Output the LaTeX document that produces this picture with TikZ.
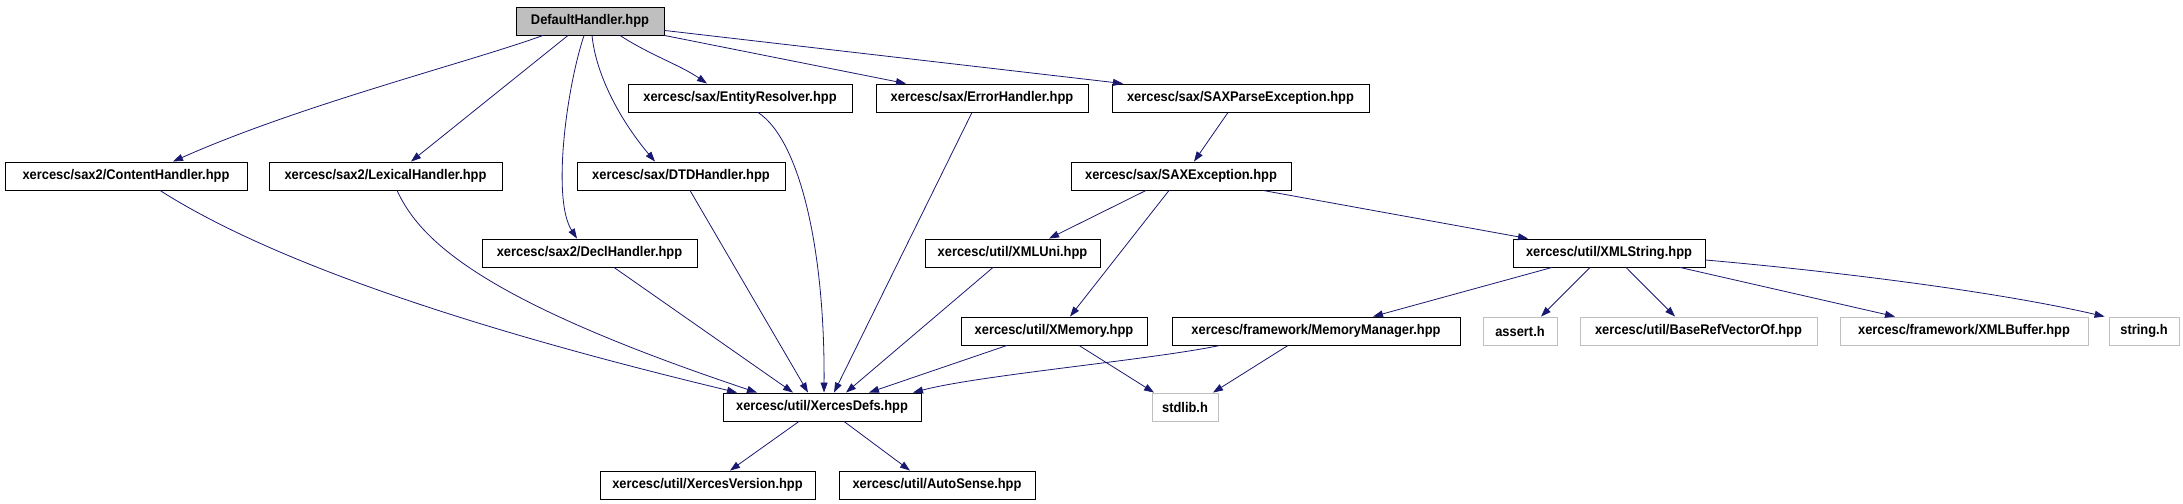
\documentclass[tikz,border=0pt]{standalone}
\usepackage{fontspec}
\setmainfont{Liberation Sans}[FakeStretch=0.92]
\usetikzlibrary{arrows.meta}
\definecolor{edgeblue}{HTML}{191970}
\definecolor{boxgray}{HTML}{BFBFBF}
\tikzset{
  fbox/.style={draw=black, line width=0.9pt, minimum height=28pt, inner sep=0pt,
    font=\fontsize{14}{16}\selectfont\bfseries, anchor=center},
  rootbox/.style={fbox, fill=boxgray},
  extbox/.style={fbox, draw=boxgray},
  dep/.style={draw=edgeblue, line width=0.8pt, -{Triangle[length=10pt,width=7pt]}, fill=none},
}
\begin{document}
\begin{tikzpicture}[x=1pt,y=-1pt]
\useasboundingbox (0,0) rectangle (2183,503);
% nodes
\node[rootbox, minimum width=148pt] (DH) at (590,21) {DefaultHandler.hpp};
\node[fbox, minimum width=224pt] (ER) at (740,98) {xercesc/sax/EntityResolver.hpp};
\node[fbox, minimum width=212pt] (EH) at (982,98) {xercesc/sax/ErrorHandler.hpp};
\node[fbox, minimum width=257pt] (SPE) at (1240.5,98) {xercesc/sax/SAXParseException.hpp};
\node[fbox, minimum width=242pt] (CH) at (126,176) {xercesc/sax2/ContentHandler.hpp};
\node[fbox, minimum width=233pt] (LH) at (385.5,176) {xercesc/sax2/LexicalHandler.hpp};
\node[fbox, minimum width=208pt] (DTD) at (681,176) {xercesc/sax/DTDHandler.hpp};
\node[fbox, minimum width=220pt] (SE) at (1181,176) {xercesc/sax/SAXException.hpp};
\node[fbox, minimum width=215pt] (DCL) at (589.5,253) {xercesc/sax2/DeclHandler.hpp};
\node[fbox, minimum width=175pt] (XU) at (1012.5,253) {xercesc/util/XMLUni.hpp};
\node[fbox, minimum width=192pt] (XS) at (1609,253) {xercesc/util/XMLString.hpp};
\node[fbox, minimum width=186pt] (XM) at (1054,331) {xercesc/util/XMemory.hpp};
\node[fbox, minimum width=288pt] (MM) at (1316,331) {xercesc/framework/MemoryManager.hpp};
\node[extbox, minimum width=74pt] (AH) at (1520,331) {assert.h};
\node[extbox, minimum width=237pt] (BRV) at (1698.5,331) {xercesc/util/BaseRefVectorOf.hpp};
\node[extbox, minimum width=248pt] (XB) at (1964,331) {xercesc/framework/XMLBuffer.hpp};
\node[extbox, minimum width=70pt] (SH) at (2144,331) {string.h};
\node[fbox, minimum width=198pt] (XD) at (822,407) {xercesc/util/XercesDefs.hpp};
\node[extbox, minimum width=66pt] (SL) at (1185,407) {stdlib.h};
\node[fbox, minimum width=215pt] (XV) at (707.5,485) {xercesc/util/XercesVersion.hpp};
\node[fbox, minimum width=196pt] (AS) at (937,485) {xercesc/util/AutoSense.hpp};
% edges from DefaultHandler
\draw[dep] ([xshift=-47pt]DH.south) .. controls (470,62) and (300,105) .. ([xshift=47pt]CH.north);
\draw[dep] ([xshift=-22pt]DH.south) -- ([xshift=25.5pt]LH.north);
\draw[dep] ([xshift=-6pt]DH.south) .. controls (566,90) and (552,200) .. ([xshift=-12.5pt]DCL.north);
\draw[dep] ([xshift=2pt]DH.south) .. controls (596,75) and (620,120) .. ([xshift=-26pt]DTD.north);
\draw[dep] ([xshift=30pt]DH.south) .. controls (650,55) and (680,65) .. ([xshift=-33pt]ER.north);
\draw[dep] (DH.south east) -- ([xshift=-76pt]EH.north);
\draw[dep] ([yshift=5pt]DH.south east) -- ([xshift=-117.5pt]SPE.north);
% SAX chain
\draw[dep] ([xshift=-12.5pt]SPE.south) -- ([xshift=13pt]SE.north);
\draw[dep] ([xshift=-35pt]SE.south) -- ([xshift=36.5pt]XU.north);
\draw[dep] ([xshift=-12pt]SE.south) -- ([xshift=16pt]XM.north);
\draw[dep] ([xshift=82pt]SE.south) -- ([xshift=-81pt]XS.north);
% XMLString
\draw[dep] ([xshift=-57pt]XS.south) -- ([xshift=57pt]MM.north);
\draw[dep] ([xshift=-19pt]XS.south) -- ([xshift=21pt]AH.north);
\draw[dep] ([xshift=17pt]XS.south) -- ([xshift=-23.5pt]BRV.north);
\draw[dep] ([xshift=71pt]XS.south) -- ([xshift=-69pt]XB.north);
\draw[dep] ([yshift=-7pt]XS.east) .. controls (1820,270) and (1990,290) .. ([xshift=-4pt]SH.north west);
% into XercesDefs
\draw[dep] ([xshift=34pt]CH.south) .. controls (300,280) and (560,350) .. ([xshift=-85pt]XD.north);
\draw[dep] ([xshift=11.5pt]LH.south) .. controls (420,240) and (480,300) .. ([xshift=-65pt]XD.north);
\draw[dep] ([xshift=24.5pt]DCL.south) -- ([xshift=-29pt]XD.north);
\draw[dep] ([xshift=9pt]DTD.south) -- ([xshift=-14pt]XD.north);
\draw[dep] ([xshift=18pt]ER.south) .. controls (800,140) and (825,250) .. ([xshift=2pt]XD.north);
\draw[dep] ([xshift=-10pt]EH.south) -- ([xshift=12pt]XD.north);
\draw[dep] ([xshift=-19.5pt]XU.south) -- ([xshift=24pt]XD.north);
\draw[dep] ([xshift=-47pt]XM.south) -- ([xshift=47pt]XD.north);
\draw[dep] ([xshift=-96pt]MM.south) .. controls (1150,360) and (980,375) .. ([xshift=91pt]XD.north);
% stdlib
\draw[dep] ([xshift=25pt]XM.south) -- ([xshift=-31pt]SL.north);
\draw[dep] ([xshift=-28pt]MM.south) -- ([xshift=28pt]SL.north);
% XercesDefs children
\draw[dep] ([xshift=-23pt]XD.south) -- ([xshift=22.5pt]XV.north);
\draw[dep] ([xshift=22pt]XD.south) -- ([xshift=-27pt]AS.north);
\end{tikzpicture}
\end{document}
